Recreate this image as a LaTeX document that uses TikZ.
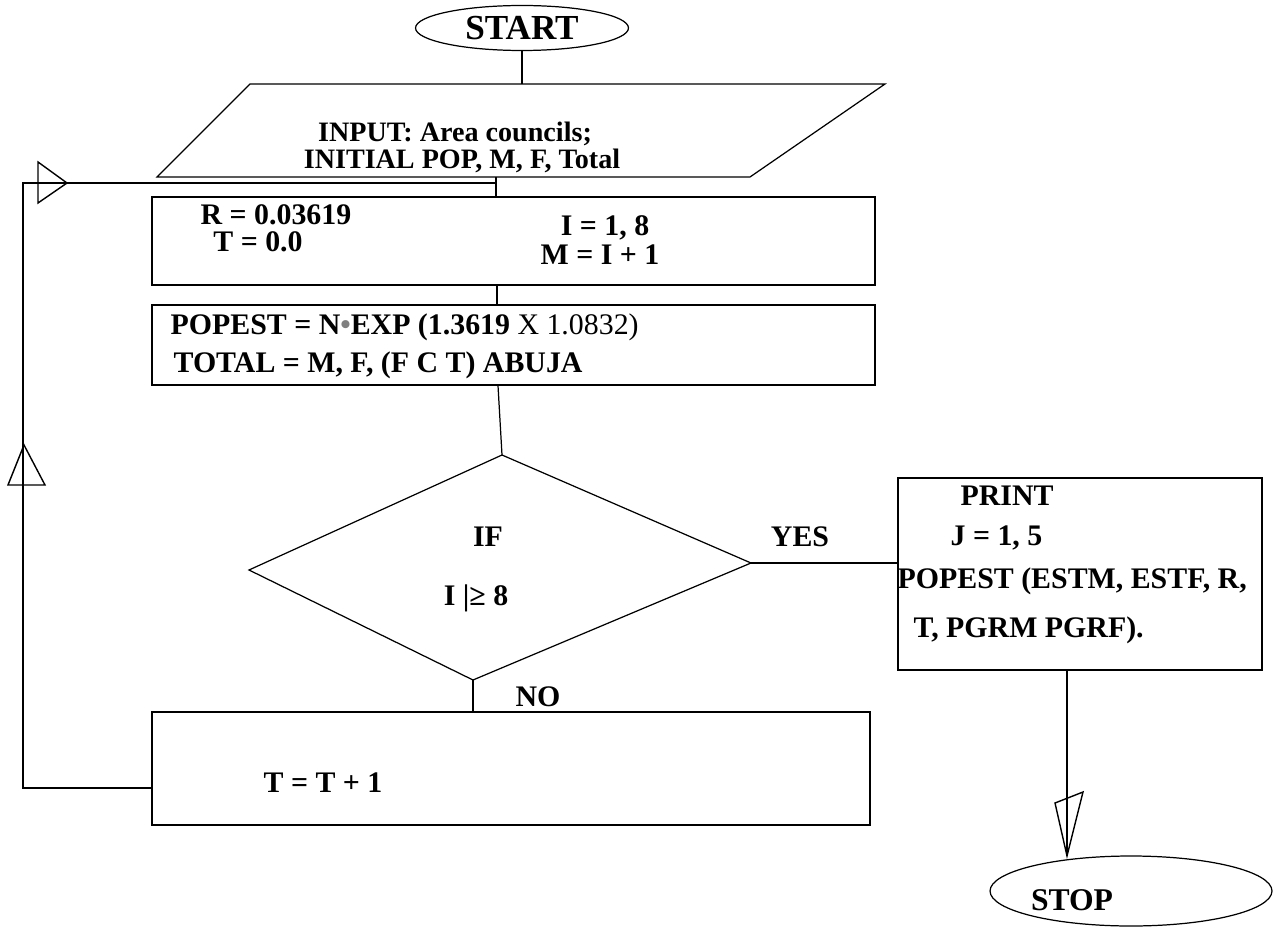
\documentclass[tikz,border=0pt]{standalone}
\usepackage{fontspec}
\setmainfont{Liberation Serif}
\usetikzlibrary{shapes.geometric}
\begin{document}
\begin{tikzpicture}[x=0.02cm,y=-0.02cm,
  line width=0.7pt,
  lbl/.style={font=\bfseries\fontsize{#1}{#1}\selectfont, inner sep=0pt},
  lbl/.default=16,
  boxnode/.style={draw, rectangle, inner sep=0pt},
  term/.style={draw, ellipse, inner sep=0pt},
  openhead/.style={draw, line width=0.8pt, line join=miter}]
\useasboundingbox (0,0) rectangle (1274,929);

% terminals
\node[term, minimum width=4.26cm, minimum height=0.9cm] (start) at (522,28) {};
\node[lbl=20] (starttxt) at (522,28) {START};

% input parallelogram
\coordinate (pTL) at (250,84);
\coordinate (pTR) at (885,84);
\coordinate (pBR) at (750,177);
\coordinate (pBL) at (157,177);
\draw (pTL) -- (pTR) -- (pBR) -- (pBL) -- cycle;
\coordinate (inTop) at (522,84);
\coordinate (inBot) at (496,177);
\node[lbl=16] (in1) at (455,134) {INPUT: Area councils;};
\node[lbl=16] (in2) at (462,161) {INITIAL POP, M, F, Total};

% R box
\node[boxnode, minimum width=14.46cm, minimum height=1.76cm] (rbox) at (513.5,241) {};
\node[lbl=17] (r1) at (276,215) {R = 0.03619};
\node[lbl=17] (r2) at (258,242) {T = 0.0};
\node[lbl=17] (r3) at (605,228) {I = 1, 8};
\node[lbl=17] (r4) at (600,255) {M = I + 1};

% POPEST box
\node[boxnode, minimum width=14.46cm, minimum height=1.6cm] (pbox) at (513.5,345) {};
\node[lbl=17, anchor=west] (p1) at (170,327) {POPEST = N{\color{gray}•}EXP (1.3619 {\mdseries X 1.0832)}};
\node[lbl=17, anchor=west] (p2) at (173,365) {TOTAL = M, F, (F C T) ABUJA};

% decision
\coordinate (dT) at (502,455);
\coordinate (dR) at (751,563);
\coordinate (dB) at (473,680);
\coordinate (dL) at (249,570);
\draw (dT) -- (dR) -- (dB) -- (dL) -- cycle;
\node[lbl=17] (if1) at (488,537) {IF};
\node[lbl=17] (if2) at (476,598) {I |≥ 8};
\node[lbl=17] (yes) at (800,537) {YES};
\node[lbl=17] (no) at (538,697) {NO};

% print box
\node[boxnode, minimum width=7.28cm, minimum height=3.84cm] (prbox) at (1080,574) {};
\node[lbl=17, anchor=west] (pr1) at (960,496) {PRINT};
\node[lbl=17, anchor=west] (pr2) at (950,538) {J = 1, 5};
\node[lbl=17, anchor=west] (pr3) at (897,581) {POPEST (ESTM, ESTF, R,};
\node[lbl=17, anchor=west] (pr4) at (913,630) {T, PGRM PGRF).};

% T box
\node[boxnode, minimum width=14.36cm, minimum height=2.26cm] (tbox) at (511,768.5) {};
\node[lbl=17, anchor=west] (t1) at (263,783) {T = T + 1};

% stop
\node[term, minimum width=5.64cm, minimum height=1.4cm] (stop) at (1131,891) {};
\node[lbl=18] (stoptxt) at (1072,900) {STOP};

% connectors
\draw (start.south) -- (inTop);
\draw (inBot) -- (inBot |- rbox.north);
\draw (rbox.south -| 497,0) -- (pbox.north -| 497,0);
\draw (pbox.south -| 498,0) -- (dT);
\draw (dR) -- (dR -| prbox.west);
\draw (dB) -- (dB |- tbox.north);

% loop back
\coordinate (lb) at (23,788);
\coordinate (lt) at (23,183);
\coordinate (le) at (496,183);
\draw (tbox.west |- lb) -- (lb) -- (lt) -- (le);
\coordinate (upApex) at (24,445);
\draw[openhead] (upApex) -- (45,485) -- (8,485) -- cycle;
\coordinate (rtApex) at (67,183);
\draw[openhead] (rtApex) -- (38,203) -- (38,162) -- cycle;

% to stop
\coordinate (sTop) at (1067,856);
\draw (prbox.south -| sTop) -- (sTop);
\draw[openhead] (sTop) -- (1083,792) -- (1055,803) -- cycle;
\end{tikzpicture}
\end{document}
